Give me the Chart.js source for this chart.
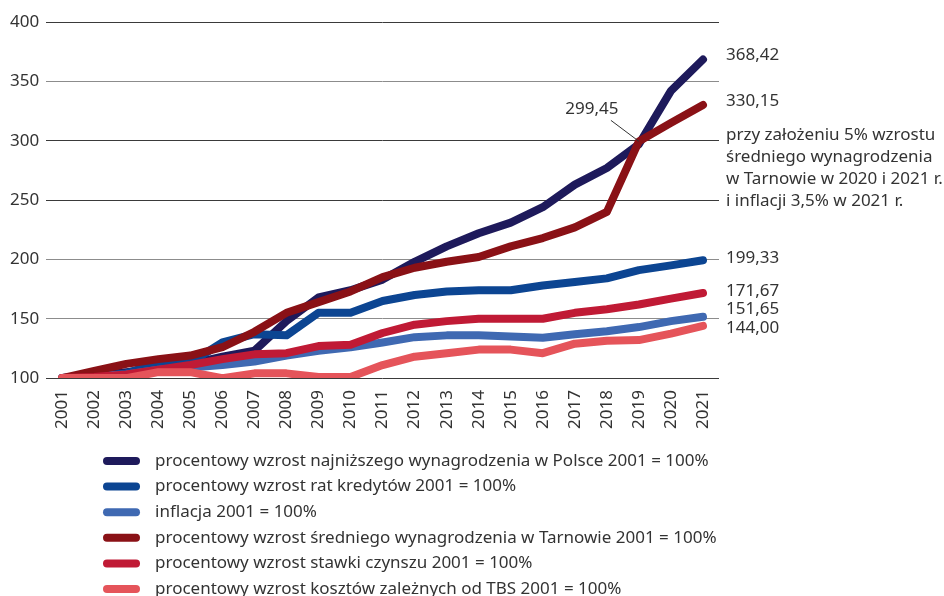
<!DOCTYPE html>
<html>
<head>
<meta charset="utf-8">
<script src="https://cdn.jsdelivr.net/npm/chart.js@4"></script>
<style>
  body { margin: 0; background: #fff; }
  #wrap { width: 944px; height: 596px; }
</style>
</head>
<body>
<div id="wrap"><canvas id="growthChart" width="944" height="596"></canvas></div>
<script>
const years = ['2001','2002','2003','2004','2005','2006','2007','2008','2009','2010','2011',
               '2012','2013','2014','2015','2016','2017','2018','2019','2020','2021'];

const minWage   = [100, 102, 105, 108, 112, 118, 123, 148, 168, 174, 183, 198, 211, 222, 231, 244, 263, 277, 297, 342, 368.42];
const loanRates = [100, 101, 104, 113, 113, 130, 137, 136, 155, 155, 165, 170, 173, 174, 174, 178, 181, 184, 191, 195, 199.33];
const inflation = [100, 102, 103, 107, 109, 111, 114, 119, 123, 126, 130, 134.5, 136, 136, 135, 134, 137, 139.5, 143, 148, 151.65];
const avgWage   = [100, 106, 112, 116, 119, 126, 139, 155, 164, 173, 185, 193, 198, 202, 211, 218, 227, 240, 299.45, 315, 330.15];
const rent      = [100, 101, 103, 107, 111, 116, 120, 121, 127, 128, 138, 145, 148, 150, 150, 150, 155, 158, 162, 167, 171.67];
const tbsCosts  = [100, 100, 100, 105, 105, 100, 104, 104, 101, 101, 111, 118, 121, 124, 124, 121, 129, 131.5, 132, 137.5, 144];

const endLabels = ['368,42', '199,33', '151,65', '330,15', '171,67', '144,00'];
const endLabelShift = [-4, -2, -8, -4, -2, 2];
const note = ['przy założeniu 5% wzrostu', 'średniego wynagrodzenia', 'w Tarnowie w 2020 i 2021 r.', 'i inflacji 3,5% w 2021 r.'];
const markedValue = '299,45';

const font = "'Noto Sans', sans-serif";
const textColor = '#333';

function series(label, data, color, order) {
  return {
    label: label,
    data: data,
    borderColor: color,
    backgroundColor: color,
    borderWidth: 8,
    borderCapStyle: 'round',
    borderJoinStyle: 'round',
    pointRadius: 0,
    tension: 0,
    order: order
  };
}

const labelsPlugin = {
  id: 'endLabels',
  afterDatasetsDraw(chart) {
    const c = chart.ctx;
    const area = chart.chartArea;
    const y = chart.scales.y;
    const x0 = Math.round(area.right) + 7;
    const rows = [];
    chart.data.datasets.forEach((ds, i) => {
      rows.push([endLabels[i], y.getPixelForValue(ds.data[ds.data.length - 1]) + endLabelShift[i]]);
    });
    const top = y.getPixelForValue(300) - 6;
    note.forEach((line, i) => rows.push([line, top + i * 22.2]));

    c.save();
    c.font = '17px ' + font;
    c.fillStyle = textColor;
    c.textBaseline = 'middle';
    c.textAlign = 'left';
    rows.forEach(r => c.fillText(r[0], x0, r[1]));

    // marked 2019 value of avg wage
    const pt = chart.getDatasetMeta(3).data[18];
    c.strokeStyle = '#333';
    c.lineWidth = 1;
    c.beginPath();
    c.moveTo(pt.x - 28, pt.y - 21);
    c.lineTo(pt.x, pt.y);
    c.stroke();
    c.textAlign = 'center';
    c.fillText(markedValue, pt.x - 47, pt.y - 32);
    c.restore();
  }
};

const legendPlugin = {
  id: 'bottomLegend',
  afterDraw(chart) {
    const c = chart.ctx;
    c.save();
    c.font = '17px ' + font;
    c.textBaseline = 'middle';
    chart.data.datasets.forEach((ds, i) => {
      const ly = 461 + i * 25.6;
      c.strokeStyle = ds.borderColor;
      c.lineWidth = 8;
      c.lineCap = 'round';
      c.beginPath();
      c.moveTo(107, ly);
      c.lineTo(136, ly);
      c.stroke();
      c.fillStyle = textColor;
      c.fillText(ds.label, 155, ly);
    });
    c.restore();
  }
};

const data = {
  labels: years,
  datasets: [
    series('procentowy wzrost najniższego wynagrodzenia w Polsce 2001 = 100%', minWage, '#1e1a5b', 6),
    series('procentowy wzrost rat kredytów 2001 = 100%', loanRates, '#0c4592', 5),
    series('inflacja 2001 = 100%', inflation, '#3f69b2', 4),
    series('procentowy wzrost średniego wynagrodzenia w Tarnowie 2001 = 100%', avgWage, '#8a1116', 3),
    series('procentowy wzrost stawki czynszu 2001 = 100%', rent, '#c01a35', 2),
    series('procentowy wzrost kosztów zależnych od TBS 2001 = 100%', tbsCosts, '#e5545a', 1)
  ]
};

const config = {
  type: 'line',
  data: data,
  options: {
    responsive: false,
    animation: false,
    layout: {
      padding: { left: 3, right: 225, top: 22, bottom: 163 }
    },
    plugins: {
      legend: { display: false },
      tooltip: { enabled: false }
    },
    scales: {
      x: {
        offset: true,
        grid: { display: false },
        border: { display: false },
        ticks: {
          autoSkip: false,
          minRotation: 90,
          maxRotation: 90,
          padding: 4,
          color: textColor,
          font: { family: font, size: 17 }
        }
      },
      y: {
        min: 100,
        max: 400,
        border: { display: false },
        grid: {
          drawTicks: false,
          lineWidth: 1,
          color: ctx => [350, 200, 150].includes(ctx.tick && ctx.tick.value) ? '#8c8c8c' : '#3a3a3a'
        },
        ticks: {
          stepSize: 50,
          padding: 7,
          color: textColor,
          font: { family: font, size: 17 }
        }
      }
    }
  },
  plugins: [labelsPlugin, legendPlugin]
};

const ctx = document.getElementById('growthChart').getContext('2d');
new Chart(ctx, config);
</script>
</body>
</html>
